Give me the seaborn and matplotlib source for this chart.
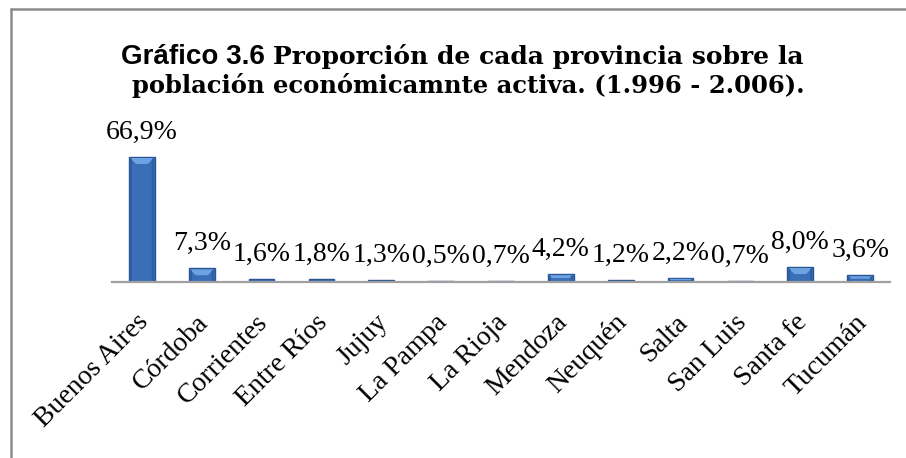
import numpy as np
import pandas as pd
import matplotlib
matplotlib.use('Agg')
import matplotlib.pyplot as plt
from matplotlib.lines import Line2D
from matplotlib.patches import Polygon
import matplotlib.transforms as mtrans
import seaborn as sns

# datos del gráfico
provincias = ['Buenos Aires', 'Córdoba', 'Corrientes', 'Entre Ríos', 'Jujuy',
              'La Pampa', 'La Rioja', 'Mendoza', 'Neuquén', 'Salta',
              'San Luis', 'Santa fe', 'Tucumán']
valores = [66.9, 7.3, 1.6, 1.8, 1.3, 0.5, 0.7, 4.2, 1.2, 2.2, 0.7, 8.0, 3.6]
etiquetas = ['{:.1f}%'.format(v).replace('.', ',') for v in valores]

titulo_a = 'Gráfico 3.6'
titulo_b = 'Proporción de cada provincia sobre la'
titulo_c = 'población económicamnte activa. (1.996 - 2.006).'

df = pd.DataFrame({'provincia': provincias, 'valor': valores})

sns.set_style('white')
plt.rcParams['text.color'] = 'black'
W, H = 906, 458
fig = plt.figure(figsize=(W / 100, H / 100), dpi=100)

# área del gráfico en píxeles
x_left, x_right = 112, 890
y_base, y_top = 282, 110
ax = fig.add_axes([x_left / W, 1 - y_base / H, (x_right - x_left) / W, (y_base - y_top) / H])

sns.barplot(data=df, x='provincia', y='valor', ax=ax, color='#3a6eb6',
            width=0.43, edgecolor='#2a5594', linewidth=1.0, saturation=1)

ax.set_ylim(0, (y_base - y_top) / (125 / 66.9))
ax.set_xlim(-0.5, len(provincias) - 0.5)
for s in ['top', 'right', 'left']:
    ax.spines[s].set_visible(False)
ax.spines['bottom'].set_color('#a0a0a0')
ax.spines['bottom'].set_linewidth(1.6)
ax.spines['bottom'].set_zorder(5)
ax.set_yticks([])
ax.set_xlabel('')
ax.set_ylabel('')
ax.tick_params(axis='x', length=0, pad=20, labelcolor='black')
ax.set_xticks(range(len(provincias)))
ax.set_xticklabels(provincias, rotation=45, ha='right', rotation_mode='anchor',
                   family='Liberation Serif', fontsize=20)
shift = mtrans.ScaledTranslation(-6 / 100, 0, fig.dpi_scale_trans)
for lbl in ax.get_xticklabels():
    lbl.set_transform(lbl.get_transform() + shift)

# efecto bisel en la parte superior de cada barra
for p in ax.patches:
    x0, y0 = ax.transData.transform((p.get_x(), 0))
    x1, y1 = ax.transData.transform((p.get_x() + p.get_width(), p.get_height()))
    h = y1 - y0
    if h < 4:
        continue
    d = min(7, h / 2)
    pts = [(x0 + 1, y1 - 1), (x1 - 1, y1 - 1), (x1 - d, y1 - d), (x0 + d, y1 - d)]
    ax.add_patch(Polygon(pts, closed=True, transform=None, facecolor='#6ea3e3',
                         edgecolor='none', zorder=3))
    ax.add_patch(Polygon([(x0 + 1, y0), (x0 + 3, y0), (x0 + 3, y1 - 2), (x0 + 1, y1 - 1)],
                         closed=True, transform=None, facecolor='#2e5ea3',
                         edgecolor='none', zorder=3))
    ax.add_patch(Polygon([(x1 - 3, y0), (x1 - 1, y0), (x1 - 1, y1 - 1), (x1 - 3, y1 - 2)],
                         closed=True, transform=None, facecolor='#2e5ea3',
                         edgecolor='none', zorder=3))

for i, (v, lab) in enumerate(zip(valores, etiquetas)):
    ax.annotate(lab, (i, v), xytext=(0, 13), textcoords='offset points',
                ha='center', va='baseline', family='Liberation Serif', fontsize=20,
                color='black')

# título con dos fuentes
fig.canvas.draw()
r = fig.canvas.get_renderer()
y1t = 1 - 64 / H
y2t = 1 - 93 / H
t1 = fig.text(0, y1t, titulo_a, family='Liberation Sans', weight='bold', fontsize=20,
              va='baseline', color='black')
t2 = fig.text(0, y1t, titulo_b, family='DejaVu Serif', weight='bold', fontsize=18,
              va='baseline', color='black')
w1 = t1.get_window_extent(r).width
w2 = t2.get_window_extent(r).width
gap = 8
x0t = 462 - (w1 + gap + w2) / 2
t1.set_x(x0t / W)
t2.set_x((x0t + w1 + gap) / W)
fig.text(468 / W, y2t, titulo_c, family='DejaVu Serif', weight='bold', fontsize=17.5,
         va='baseline', ha='center', color='black')

# marco del gráfico
fig.add_artist(Line2D([11 / W, 11 / W], [0, 1 - 9 / H], color='#8c8c8c', lw=1.8))
fig.add_artist(Line2D([11 / W, 1], [1 - 9 / H, 1 - 9 / H], color='#8c8c8c', lw=1.8))

fig.savefig('out.png', dpi=100)
